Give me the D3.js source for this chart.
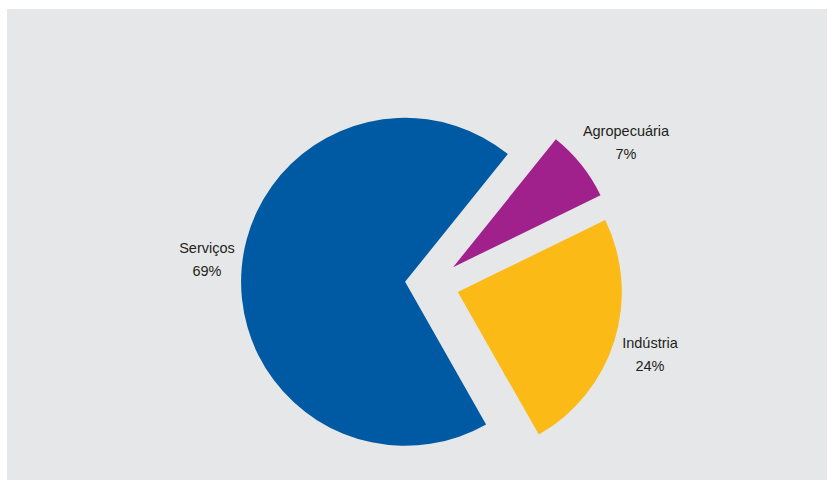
<!DOCTYPE html>
<html>
<head>
<meta charset="utf-8">
<script src="https://cdn.jsdelivr.net/npm/d3@7"></script>
<style>
  body { margin: 0; background: #fff; }
  svg { display: block; }
</style>
</head>
<body>
<svg id="chart" width="828" height="480"></svg>
<script>
const width = 828;
const height = 480;

// sectors and their share (%)
const sectors = ['Agropecuária', 'Indústria', 'Serviços'];
const shares = [7, 24, 69];
const colors = ['#a0218c', '#fbba16', '#005aa3'];
// label anchor positions
const labelPos = [[626, 131], [650, 343], [207, 248]];

const cx = 432, cy = 284;   // common centre before explode
const radius = 164;
const explode = 27;
const startDeg = 38.8;      // first slice starts near 1 o'clock

const svg = d3.select('#chart');

// grey panel
svg.append('rect')
  .attr('x', 7).attr('y', 9)
  .attr('width', 820).attr('height', 471)
  .attr('fill', '#e6e7e8');

const pie = d3.pie()
  .sort(null)
  .value(d => d)
  .startAngle(startDeg * Math.PI / 180)
  .endAngle(startDeg * Math.PI / 180 + 2 * Math.PI);

const arc = d3.arc().innerRadius(0).outerRadius(radius);

const arcs = pie(shares);

svg.append('g')
  .selectAll('path')
  .data(arcs)
  .join('path')
  .attr('d', arc)
  .attr('fill', (d, i) => colors[i])
  .attr('transform', d => {
    const mid = (d.startAngle + d.endAngle) / 2;
    const dx = cx + explode * Math.sin(mid);
    const dy = cy - explode * Math.cos(mid);
    return `translate(${dx},${dy})`;
  });

// labels: name and share on two lines
const labels = svg.append('g')
  .attr('font-family', '"Liberation Sans", Arial, sans-serif')
  .attr('font-size', 14.5)
  .attr('fill', '#231f20')
  .attr('text-anchor', 'middle')
  .selectAll('text')
  .data(sectors)
  .join('text')
  .attr('x', (d, i) => labelPos[i][0])
  .attr('y', (d, i) => labelPos[i][1] + 5);

labels.append('tspan').text(d => d);
labels.append('tspan')
  .attr('x', (d, i) => labelPos[i][0])
  .attr('dy', 23)
  .text((d, i) => shares[i] + '%');
</script>
</body>
</html>
